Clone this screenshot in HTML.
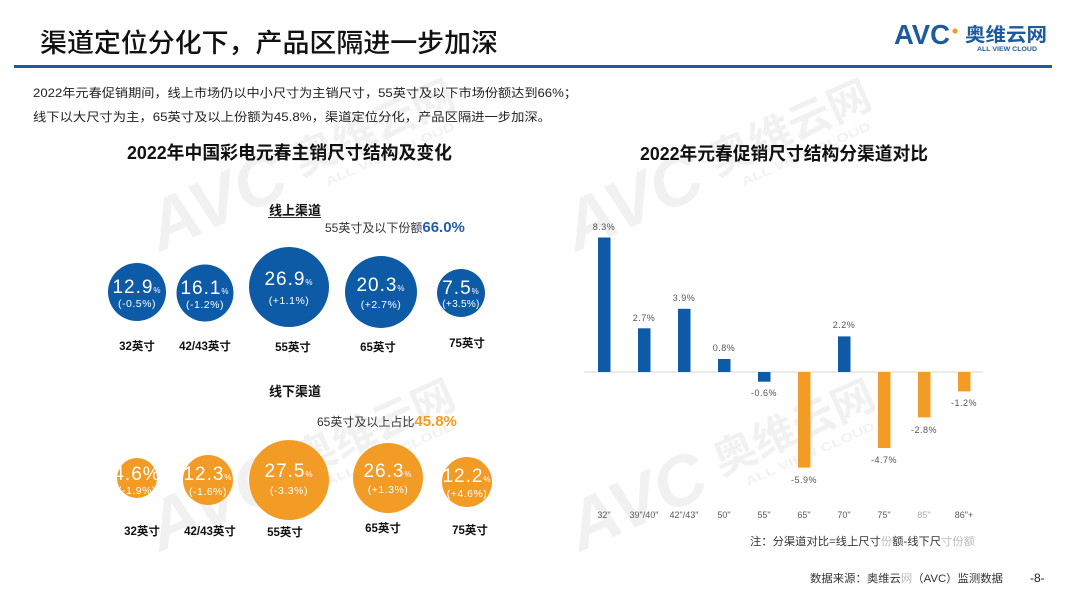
<!DOCTYPE html>
<html><head><meta charset="utf-8"><style>
html,body{margin:0;padding:0;background:#fff;}
svg{display:block;font-family:"Liberation Sans","Noto Sans CJK SC",sans-serif;}
</style></head><body>
<svg width="1080" height="608" viewBox="0 0 1080 608" xmlns="http://www.w3.org/2000/svg">
<rect width="1080" height="608" fill="#fff"/>

<!-- watermarks -->
<g fill="#000" fill-opacity="0.055" font-weight="bold">
  <g transform="translate(160,252) rotate(-24)">
    <text x="0" y="0" font-size="70" font-style="italic" textLength="145" lengthAdjust="spacingAndGlyphs">AVC</text>
    <text x="160" y="-12" font-size="42" textLength="172" lengthAdjust="spacingAndGlyphs">奥维云网</text>
    <text x="180" y="8" font-size="12" textLength="140" lengthAdjust="spacingAndGlyphs">ALL VIEW CLOUD</text>
  </g>
  <g transform="translate(160,552) rotate(-24)">
    <text x="0" y="0" font-size="70" font-style="italic" textLength="145" lengthAdjust="spacingAndGlyphs">AVC</text>
    <text x="160" y="-12" font-size="42" textLength="172" lengthAdjust="spacingAndGlyphs">奥维云网</text>
    <text x="180" y="8" font-size="12" textLength="140" lengthAdjust="spacingAndGlyphs">ALL VIEW CLOUD</text>
  </g>
  <g transform="translate(576,252) rotate(-24)">
    <text x="0" y="0" font-size="70" font-style="italic" textLength="145" lengthAdjust="spacingAndGlyphs">AVC</text>
    <text x="160" y="-12" font-size="42" textLength="172" lengthAdjust="spacingAndGlyphs">奥维云网</text>
    <text x="180" y="8" font-size="12" textLength="140" lengthAdjust="spacingAndGlyphs">ALL VIEW CLOUD</text>
  </g>
  <g transform="translate(580,552) rotate(-24)">
    <text x="0" y="0" font-size="70" font-style="italic" textLength="145" lengthAdjust="spacingAndGlyphs">AVC</text>
    <text x="160" y="-12" font-size="42" textLength="172" lengthAdjust="spacingAndGlyphs">奥维云网</text>
    <text x="180" y="8" font-size="12" textLength="140" lengthAdjust="spacingAndGlyphs">ALL VIEW CLOUD</text>
  </g>
</g>

<!-- header -->
<text x="40" y="52" font-size="26" font-weight="500" fill="#111" textLength="458" lengthAdjust="spacingAndGlyphs">渠道定位分化下，产品区隔进一步加深</text>
<text x="894" y="44" font-size="28" font-weight="bold" fill="#1d5b9a" textLength="56" lengthAdjust="spacingAndGlyphs">AVC</text>
<circle cx="955" cy="31" r="2.6" fill="#f29c26"/>
<text x="965" y="41" font-size="19" font-weight="bold" fill="#1d5b9a" textLength="82" lengthAdjust="spacingAndGlyphs">奥维云网</text>
<text x="977" y="51" font-size="6" font-weight="bold" fill="#1d5b9a" textLength="60" lengthAdjust="spacingAndGlyphs">ALL VIEW CLOUD</text>
<rect x="14" y="65" width="1038" height="3" fill="#1f5b95"/>

<!-- body text -->
<text x="33" y="97" font-size="12" fill="#222" textLength="544" lengthAdjust="spacingAndGlyphs">2022年元春促销期间，线上市场仍以中小尺寸为主销尺寸，55英寸及以下市场份额达到66%；</text>
<text x="33" y="121" font-size="12" fill="#222" textLength="518" lengthAdjust="spacingAndGlyphs">线下以大尺寸为主，65英寸及以上份额为45.8%，渠道定位分化，产品区隔进一步加深。</text>

<!-- chart titles -->
<text x="127" y="159" font-size="18" font-weight="bold" fill="#111" textLength="325" lengthAdjust="spacingAndGlyphs">2022年中国彩电元春主销尺寸结构及变化</text>
<text x="640" y="160" font-size="18" font-weight="bold" fill="#111" textLength="288" lengthAdjust="spacingAndGlyphs">2022年元春促销尺寸结构分渠道对比</text>

<!-- online -->
<text x="295" y="215" font-size="13" font-weight="bold" fill="#111" text-anchor="middle">线上渠道</text>
<rect x="268" y="217" width="53" height="1" fill="#333"/>
<text x="325" y="232" font-size="12" fill="#333">55英寸及以下份额<tspan font-size="15" font-weight="bold" fill="#1f5fa8">66.0%</tspan></text>

<g fill="#0d5aa7">
  <circle cx="137" cy="292" r="29"/>
  <circle cx="205" cy="293" r="28.5"/>
  <circle cx="289" cy="287" r="40"/>
  <circle cx="381" cy="292" r="36"/>
  <circle cx="461" cy="293" r="24"/>
</g>
<g fill="#fff" text-anchor="middle">
  <text x="137" y="293" font-size="19" letter-spacing="1">12.9<tspan font-size="8">%</tspan></text>
  <text x="137" y="307" font-size="10.5" letter-spacing="0.5">(-0.5%)</text>
  <text x="205" y="294" font-size="19" letter-spacing="1">16.1<tspan font-size="8">%</tspan></text>
  <text x="205" y="308" font-size="10.5" letter-spacing="0.5">(-1.2%)</text>
  <text x="289" y="285" font-size="19" letter-spacing="1">26.9<tspan font-size="8">%</tspan></text>
  <text x="289" y="304" font-size="10.5" letter-spacing="0.5">(+1.1%)</text>
  <text x="381" y="291" font-size="19" letter-spacing="1">20.3<tspan font-size="8">%</tspan></text>
  <text x="381" y="308" font-size="10.5" letter-spacing="0.5">(+2.7%)</text>
  <text x="461" y="294" font-size="19" letter-spacing="1">7.5<tspan font-size="8">%</tspan></text>
  <text x="461" y="307" font-size="10" letter-spacing="0.3">(+3.5%)</text>
</g>
<g font-size="11.5" font-weight="bold" fill="#111" text-anchor="middle">
  <text x="137" y="350">32英寸</text>
  <text x="205" y="350">42/43英寸</text>
  <text x="293" y="351">55英寸</text>
  <text x="378" y="351">65英寸</text>
  <text x="467" y="347">75英寸</text>
</g>

<!-- offline -->
<text x="295" y="396" font-size="13" font-weight="bold" fill="#111" text-anchor="middle">线下渠道</text>
<text x="317" y="426" font-size="12" fill="#333">65英寸及以上占比<tspan font-size="15" font-weight="bold" fill="#f29c26">45.8%</tspan></text>

<g fill="#f29c26">
  <circle cx="137" cy="478" r="20"/>
  <circle cx="208" cy="480" r="25"/>
  <circle cx="289" cy="480" r="40"/>
  <circle cx="388" cy="478" r="35"/>
  <circle cx="467" cy="482" r="25"/>
</g>
<g fill="#fff" text-anchor="middle">
  <text x="137" y="480" font-size="19" letter-spacing="1">4.6%</text>
  <text x="137" y="494" font-size="10.5" letter-spacing="0.5">(-1.9%)</text>
  <text x="208" y="480" font-size="19" letter-spacing="1">12.3<tspan font-size="8">%</tspan></text>
  <text x="208" y="495" font-size="10.5" letter-spacing="0.5">(-1.6%)</text>
  <text x="289" y="477" font-size="19" letter-spacing="1">27.5<tspan font-size="8">%</tspan></text>
  <text x="289" y="494" font-size="10.5" letter-spacing="0.5">(-3.3%)</text>
  <text x="388" y="477" font-size="19" letter-spacing="1">26.3<tspan font-size="8">%</tspan></text>
  <text x="388" y="493" font-size="10.5" letter-spacing="0.5">(+1.3%)</text>
  <text x="467" y="482" font-size="19" letter-spacing="1">12.2<tspan font-size="8">%</tspan></text>
  <text x="467" y="497" font-size="10.5" letter-spacing="0.5">(+4.6%)</text>
</g>
<g font-size="11.5" font-weight="bold" fill="#111" text-anchor="middle">
  <text x="142" y="535">32英寸</text>
  <text x="210" y="535">42/43英寸</text>
  <text x="285" y="536">55英寸</text>
  <text x="383" y="532">65英寸</text>
  <text x="470" y="534">75英寸</text>
</g>

<!-- bar chart -->
<rect x="584" y="371.5" width="399" height="1" fill="#d9d9d9"/>
<g fill="#0d5aa7">
  <rect x="598" y="237.5" width="12.5" height="134.5"/>
  <rect x="638" y="328.3" width="12.5" height="43.7"/>
  <rect x="678" y="308.8" width="12.5" height="63.2"/>
  <rect x="718" y="359" width="12.5" height="13"/>
  <rect x="758" y="372" width="12.5" height="9.7"/>
  <rect x="838" y="336.4" width="12.5" height="35.6"/>
</g>
<g fill="#f29c26">
  <rect x="798" y="372" width="12.5" height="95.6"/>
  <rect x="878" y="372" width="12.5" height="76"/>
  <rect x="918" y="372" width="12.5" height="45.4"/>
  <rect x="958" y="372" width="12.5" height="19.4"/>
</g>
<g font-size="9" fill="#555" text-anchor="middle" letter-spacing="0.5">
  <text x="604" y="230">8.3%</text>
  <text x="644" y="321">2.7%</text>
  <text x="684" y="301">3.9%</text>
  <text x="724" y="351">0.8%</text>
  <text x="764" y="396">-0.6%</text>
  <text x="804" y="483">-5.9%</text>
  <text x="844" y="328">2.2%</text>
  <text x="884" y="463">-4.7%</text>
  <text x="924" y="433">-2.8%</text>
  <text x="964" y="406">-1.2%</text>
</g>
<g font-size="9" fill="#595959" text-anchor="middle">
  <text x="604" y="518">32"</text>
  <text x="644" y="518">39"/40"</text>
  <text x="684" y="518">42"/43"</text>
  <text x="724" y="518">50"</text>
  <text x="764" y="518">55"</text>
  <text x="804" y="518">65"</text>
  <text x="844" y="518">70"</text>
  <text x="884" y="518">75"</text>
  <text x="924" y="518" fill="#aaa">85"</text>
  <text x="964" y="518">86"+</text>
</g>
<text x="750" y="545" font-size="11" fill="#333" textLength="225" lengthAdjust="spacingAndGlyphs">注：分渠道对比=线上尺寸<tspan fill="#bbb">份</tspan>额-线下尺<tspan fill="#bbb">寸份额</tspan></text>

<!-- footer -->
<text x="810" y="582" font-size="11" fill="#333" textLength="193" lengthAdjust="spacingAndGlyphs">数据来源：奥维云<tspan fill="#bbb">网</tspan>（AVC）监测数据</text>
<text x="1030" y="582" font-size="12" fill="#222">-8-</text>
</svg>
</body></html>
